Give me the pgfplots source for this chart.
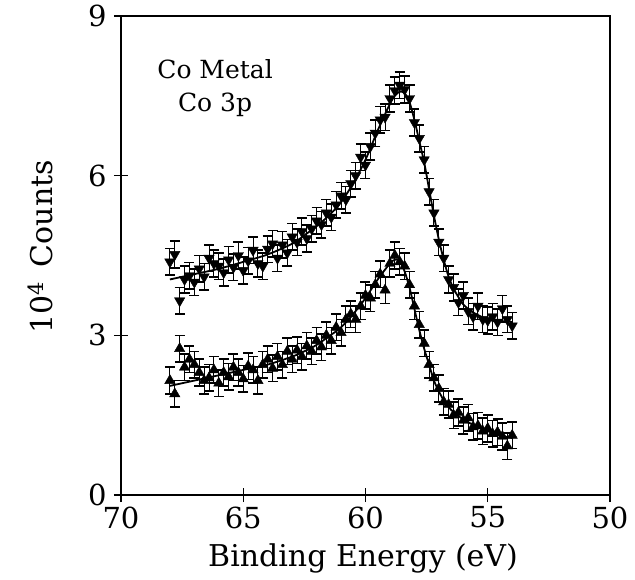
\documentclass[border=0pt]{standalone}
\usepackage{pgfplots}
\pgfplotsset{compat=1.18}
\usepackage{fontspec}
\setmainfont{DejaVu Serif}
\pgfplotstableread{
x y
68.0 4.38
67.8 4.52
67.6 3.65
67.4 4.05
67.2 4.12
67.0 4.0
66.8 4.25
66.6 4.1
66.4 4.45
66.2 4.35
66.0 4.3
65.8 4.18
65.6 4.42
65.4 4.28
65.2 4.5
65.0 4.22
64.8 4.4
64.6 4.6
64.4 4.35
64.2 4.3
64.0 4.62
63.8 4.72
63.6 4.45
63.4 4.7
63.2 4.55
63.0 4.85
62.8 4.75
62.6 4.95
62.4 4.82
62.2 5.0
62.0 5.15
61.8 5.08
61.6 5.3
61.4 5.22
61.2 5.45
61.0 5.62
60.8 5.55
60.6 5.85
60.4 6.0
60.2 6.35
60.0 6.2
59.8 6.55
59.6 6.8
59.4 7.05
59.2 7.1
59.0 7.45
58.8 7.6
58.6 7.7
58.4 7.62
58.2 7.45
58.0 7.0
57.8 6.7
57.6 6.3
57.4 5.7
57.2 5.3
57.0 4.75
56.8 4.45
56.6 4.05
56.4 3.9
56.2 3.62
56.0 3.75
55.8 3.45
55.6 3.35
55.4 3.55
55.2 3.3
55.0 3.28
54.8 3.35
54.6 3.25
54.4 3.5
54.2 3.3
54.0 3.18
}\upperdata
\pgfplotstableread{
x y
68.0 4.05
67.0 4.15
66.0 4.25
65.0 4.38
64.0 4.52
63.0 4.72
62.5 4.88
62.0 5.05
61.5 5.25
61.0 5.50
60.5 5.86
60.0 6.30
59.5 6.85
59.0 7.35
58.8 7.50
58.6 7.58
58.4 7.55
58.2 7.38
58.0 7.05
57.8 6.65
57.6 6.25
57.4 5.75
57.2 5.25
57.0 4.80
56.8 4.42
56.6 4.10
56.4 3.88
56.2 3.72
56.0 3.58
55.6 3.43
55.0 3.30
54.5 3.27
54.0 3.25
}\upperfit
\pgfplotstableread{
x y
68.0 2.15
67.8 1.9
67.6 2.75
67.4 2.4
67.2 2.55
67.0 2.45
66.8 2.3
66.6 2.15
66.4 2.2
66.2 2.35
66.0 2.1
65.8 2.3
65.6 2.22
65.4 2.4
65.2 2.3
65.0 2.18
64.8 2.42
64.6 2.35
64.4 2.15
64.2 2.45
64.0 2.55
63.8 2.38
63.6 2.6
63.4 2.45
63.2 2.7
63.0 2.55
62.8 2.72
62.6 2.6
62.4 2.8
62.2 2.7
62.0 2.9
61.8 2.78
61.6 3.0
61.4 2.9
61.2 3.15
61.0 3.05
60.8 3.3
60.6 3.4
60.4 3.3
60.2 3.55
60.0 3.75
59.8 3.7
59.6 3.95
59.4 4.15
59.2 3.85
59.0 4.35
58.8 4.5
58.6 4.38
58.4 4.3
58.2 3.95
58.0 3.55
57.8 3.2
57.6 2.85
57.4 2.45
57.2 2.2
57.0 2.0
56.8 1.75
56.6 1.7
56.4 1.5
56.2 1.55
56.0 1.4
55.8 1.45
55.6 1.28
55.4 1.3
55.2 1.2
55.0 1.25
54.8 1.15
54.6 1.18
54.4 1.1
54.2 0.92
54.0 1.12
}\lowerdata
\pgfplotstableread{
x y
68.0 2.05
67.0 2.15
66.0 2.25
65.0 2.35
64.0 2.45
63.0 2.60
62.5 2.70
62.0 2.82
61.5 2.98
61.0 3.15
60.5 3.40
60.0 3.70
59.5 4.05
59.0 4.35
58.8 4.42
58.6 4.40
58.4 4.20
58.2 3.90
58.0 3.50
57.8 3.10
57.6 2.75
57.4 2.45
57.2 2.15
57.0 1.95
56.8 1.78
56.5 1.60
56.0 1.42
55.5 1.30
55.0 1.20
54.5 1.12
54.0 1.07
}\lowerfit
\begin{document}
\begin{tikzpicture}
\useasboundingbox (-121pt,-84pt) rectangle (514pt,495pt);
\begin{axis}[
  at={(0pt,0pt)}, anchor=south west,
  scale only axis,
  width=489pt, height=479pt,
  xmin=50, xmax=70, ymin=0, ymax=9,
  x dir=reverse,
  xtick={50,55,60,65,70},
  ytick={0,3,6,9},
  tick pos=left,
  tick align=center,
  major tick length=14pt,
  axis line style={line width=1.2pt},
  every tick/.style={black, line width=1.2pt},
  /pgf/number format/assume math mode=true,
  tick label style={font=\fontsize{29}{32}\selectfont},
  yticklabel style={xshift=-4pt},
  xticklabel style={yshift=-1pt},
  label style={font=\fontsize{30}{34}\selectfont},
  xlabel={Binding Energy (eV)},
  ylabel={10\textsuperscript{4}\, Counts},
  xlabel style={at={(axis description cs:0.495,-0.1315)}, anchor=center},
  ylabel style={at={(axis description cs:-0.1656,0.518)}, anchor=center},
  clip=false,
]
\addplot[black, line width=1.8pt, smooth] table {\upperfit};
\addplot[black, line width=1.8pt, smooth] table {\lowerfit};
\addplot[only marks, mark=triangle*, mark size=6pt, mark options={rotate=180, black, fill=black},
  error bars/.cd, y dir=both, y fixed=0.25,
  error bar style={black, line width=1pt},
  error mark options={rotate=90, mark size=5pt, line width=1.6pt}] table {\upperdata};
\addplot[only marks, mark=triangle*, mark size=6pt, mark options={black, fill=black},
  error bars/.cd, y dir=both, y fixed=0.25,
  error bar style={black, line width=1pt},
  error mark options={rotate=90, mark size=5pt, line width=1.6pt}] table {\lowerdata};
\node[font=\fontsize{25}{33}\selectfont, align=center] at (axis cs:66.15,7.65) {Co Metal\\Co 3p};
\end{axis}
\end{tikzpicture}
\end{document}
